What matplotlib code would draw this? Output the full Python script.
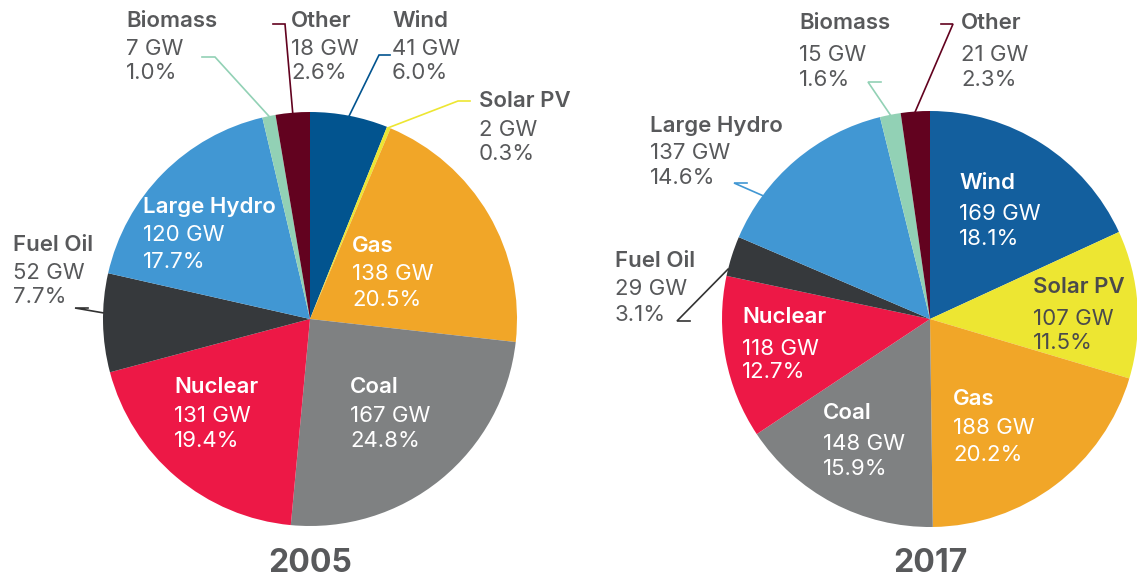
#!/usr/bin/env python3

import numpy as np
import matplotlib.pyplot as plt

# Installed capacity by source, clockwise from 12 o'clock
sources = ["Wind", "Solar PV", "Gas", "Coal", "Nuclear",
           "Fuel Oil", "Large Hydro", "Biomass", "Other"]
gw_2005 = [41, 2, 138, 167, 131, 52, 120, 7, 18]
pct_2005 = [6.0, 0.3, 20.5, 24.8, 19.4, 7.7, 17.7, 1.0, 2.6]
gw_2017 = [169, 107, 188, 148, 118, 29, 137, 15, 21]
pct_2017 = [18.1, 11.5, 20.2, 15.9, 12.7, 3.1, 14.6, 1.6, 2.3]
years = ["2005", "2017"]

colors_2005 = ["#02548f", "#ede632", "#f1a628", "#7f8182", "#ed1846",
               "#36393c", "#4197d3", "#92d1b5", "#62021f"]
colors_2017 = ["#135f9e"] + colors_2005[1:]

W, H = 1137, 581
GRAY = "#58595b"
FONT = ["Inter", "DejaVu Sans"]
FS = 16

# label layout in pixels: x, baseline of name / GW / %, text colour,
# and for outside labels the leader: (x0, y0, x1, y1) tail + anchor fraction
layout_2005 = {
    "Wind": (392, 27, 55, 79, GRAY, (379, 55, 390, 55), 0.5),
    "Solar PV": (479, 107, 136, 160, GRAY, (458, 101, 470, 101), 0.5),
    "Gas": (352, 252, 280, 306, "white", None, None),
    "Coal": (350, 393, 422, 447, "white", None, None),
    "Nuclear": (174, 393, 422, 447, "white", None, None),
    "Fuel Oil": (13, 251, 279, 303, GRAY, (75, 308, 88, 308), 0.6),
    "Large Hydro": (143, 213, 241, 268, "white", None, None),
    "Biomass": (126, 27, 55, 79, GRAY, (215, 57, 202, 57), 0.5),
    "Other": (291, 27, 55, 79, GRAY, (285, 24, 273, 24), 0.5),
}
layout_2017 = {
    "Wind": (959, 189, 220, 245, "white", None, None),
    "Solar PV": (1033, 293, 325, 349, "#4a4a4c", None, None),
    "Gas": (953, 405, 434, 461, "white", None, None),
    "Coal": (823, 419, 450, 475, "white", None, None),
    "Nuclear": (742, 323, 355, 378, "white", None, None),
    "Fuel Oil": (615, 267, 295, 321, GRAY, (677, 321, 690, 321), 0.17),
    "Large Hydro": (650, 132, 159, 184, GRAY, (734, 183, 747, 183), 0.25),
    "Biomass": (799, 29, 61, 86, GRAY, (868, 82, 881, 82), 0.5),
    "Other": (961, 29, 61, 86, GRAY, (953, 24, 941, 24), 0.5),
}


def draw_pie(ax, gw, pct, colors, layout, center, radius, year):
    cx, cy = center[0], H - center[1]
    wedges, _ = ax.pie(gw, colors=colors, startangle=90, counterclock=False,
                       center=(cx, cy), radius=radius, frame=True,
                       wedgeprops=dict(linewidth=0))

    for name, g, p, wedge, col in zip(sources, gw, pct, wedges, colors):
        x, yn, yg, yp, tcol, tail, frac = layout[name]
        ax.text(x, H - yn, name, color=tcol, fontsize=FS, fontweight="semibold",
                family=FONT, va="baseline", ha="left")
        ax.text(x, H - yg, f"{g} GW", color=tcol, fontsize=FS,
                family=FONT, va="baseline", ha="left")
        ax.text(x, H - yp, f"{p:.1f}%", color=tcol, fontsize=FS,
                family=FONT, va="baseline", ha="left")

        if tail is not None:
            # anchor on the rim, measured clockwise within the wedge
            t1, t2 = wedge.theta1, wedge.theta2
            ang = np.deg2rad(t2 - frac * (t2 - t1))
            ax_, ay_ = cx + radius * np.cos(ang), cy + radius * np.sin(ang)
            x0, y0, x1, y1 = tail
            lcol = "#333333" if name == "Fuel Oil" else col
            ax.plot([x1, x0, ax_], [H - y1, H - y0, ay_], color=lcol, lw=1.2,
                    solid_joinstyle="miter")

    ax.text(cx, H - 572, year, color=GRAY, fontsize=23, fontweight="bold",
            family=FONT, va="baseline", ha="center")


fig = plt.figure(figsize=(W / 100, H / 100), dpi=100)
ax = fig.add_axes([0, 0, 1, 1])

draw_pie(ax, gw_2005, pct_2005, colors_2005, layout_2005, (310, 319), 207, years[0])
draw_pie(ax, gw_2017, pct_2017, colors_2017, layout_2017, (930, 319), 208, years[1])

ax.set_xlim(0, W)
ax.set_ylim(0, H)
ax.set_aspect("auto")
ax.axis("off")

plt.savefig("out.png", dpi=100)
